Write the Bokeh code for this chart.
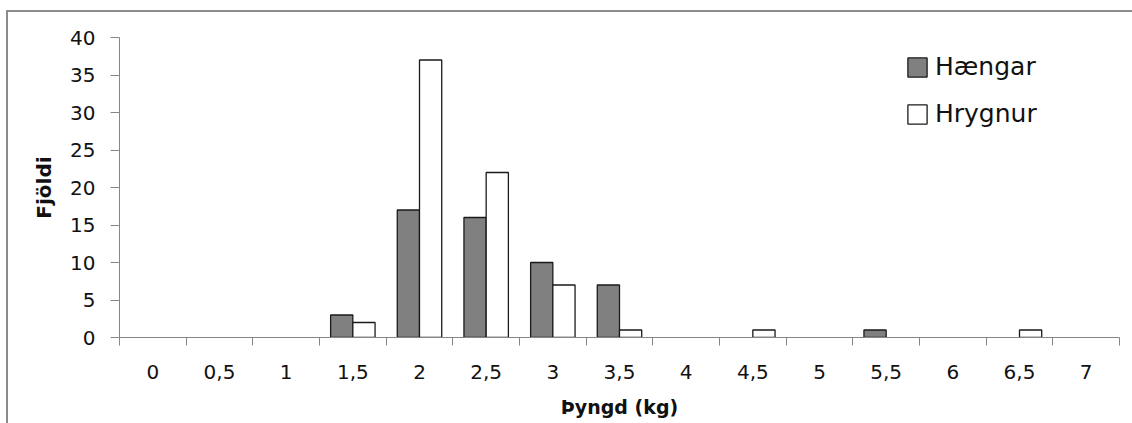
from bokeh.plotting import figure
from bokeh.models import (Range1d, FixedTicker, CustomJSTickFormatter, Legend,
                          LegendItem, ColumnDataSource)
from bokeh.embed import file_html
from bokeh.resources import INLINE
import numpy as np

# ---- data ----
categories = ["0", "0,5", "1", "1,5", "2", "2,5", "3", "3,5", "4", "4,5",
              "5", "5,5", "6", "6,5", "7"]
haengar = [0, 0, 0, 3, 17, 16, 10, 7, 0, 0, 0, 1, 0, 0, 0]
hrygnur = [0, 0, 0, 2, 37, 22, 7, 1, 0, 1, 0, 0, 0, 1, 0]
y_ticks = [0, 5, 10, 15, 20, 25, 30, 35, 40]
series_names = ["Hængar", "Hrygnur"]

n = len(categories)
idx = np.arange(n)
bar_w = 1.0 / 3.0


def series_source(values, offset):
    vals = np.asarray(values)
    keep = vals > 0          # empty classes draw no bar (Excel style)
    return ColumnDataSource(dict(x=(idx + 0.5 + offset)[keep], top=vals[keep]))


src_h = series_source(haengar, -bar_w / 2)
src_r = series_source(hrygnur, bar_w / 2)

FONT = "DejaVu Sans"
AX = "#868686"
BORDER = "#8c8c8c"

p = figure(width=1132, height=423, output_backend="svg", toolbar_location=None,
           x_range=Range1d(0, n), y_range=Range1d(0, 40),
           min_border_left=119, min_border_top=37, min_border_right=13,
           min_border_bottom=86)
p.outline_line_color = None
p.xgrid.visible = False
p.ygrid.visible = False
p.background_fill_color = "white"
p.border_fill_color = None
# outer chart frame: left and top edges (right/bottom fall outside the view)
p.styles = {
    "background-color": "white",
    "background-image": f"linear-gradient({BORDER},{BORDER}), linear-gradient({BORDER},{BORDER})",
    "background-size": "2px 100%, 100% 2px",
    "background-position": "6px 10px, 6px 10px",
    "background-repeat": "no-repeat",
}

r1 = p.vbar(x="x", top="top", width=bar_w, bottom=0, source=src_h,
            fill_color="#808080", line_color="#1a1a1a", line_width=1.3)
r2 = p.vbar(x="x", top="top", width=bar_w, bottom=0, source=src_r,
            fill_color="white", line_color="#1a1a1a", line_width=1.3)

# x axis: labels at category centres, tick marks at boundaries (minor ticks)
xa = p.xaxis[0]
xa.ticker = FixedTicker(ticks=list(idx + 0.5), minor_ticks=list(range(n + 1)))
xa.formatter = CustomJSTickFormatter(args=dict(labels=categories),
                                     code="return labels[Math.floor(tick)];")
xa.major_tick_out = 0
xa.major_tick_in = 0
xa.minor_tick_out = 8
xa.minor_tick_in = 0
xa.minor_tick_line_color = AX
xa.axis_line_color = AX
xa.major_label_standoff = 19
xa.major_label_text_font = FONT
xa.major_label_text_font_size = "20px"
xa.major_label_text_color = "#111111"
xa.axis_label = "Þyngd (kg)"
xa.axis_label_text_font = FONT
xa.axis_label_text_font_style = "bold"
xa.axis_label_text_font_size = "19px"
xa.axis_label_text_color = "#111111"
xa.axis_label_standoff = 14

ya = p.yaxis[0]
ya.ticker = FixedTicker(ticks=y_ticks)
ya.major_tick_out = 9
ya.major_tick_in = 0
ya.minor_tick_out = 0
ya.minor_tick_in = 0
ya.major_tick_line_color = AX
ya.axis_line_color = AX
ya.major_label_standoff = 15
ya.major_label_text_font = FONT
ya.major_label_text_font_size = "20px"
ya.major_label_text_color = "#111111"
ya.axis_label = "Fjöldi"
ya.axis_label_text_font = FONT
ya.axis_label_text_font_style = "bold"
ya.axis_label_text_font_size = "20px"
ya.axis_label_text_color = "#111111"
ya.axis_label_standoff = 11

legend = Legend(items=[LegendItem(label=series_names[0], renderers=[r1]),
                       LegendItem(label=series_names[1], renderers=[r2])],
                location=(786, 209), orientation="vertical")
legend.border_line_color = None
legend.background_fill_alpha = 0
legend.padding = 0
legend.margin = 0
legend.spacing = 18
legend.glyph_width = 24
legend.glyph_height = 24
legend.label_standoff = 6
legend.label_text_font = FONT
legend.label_text_font_size = "25px"
legend.label_text_color = "#111111"
p.add_layout(legend, "center")

open("out.html", "w").write(file_html(p, INLINE))
